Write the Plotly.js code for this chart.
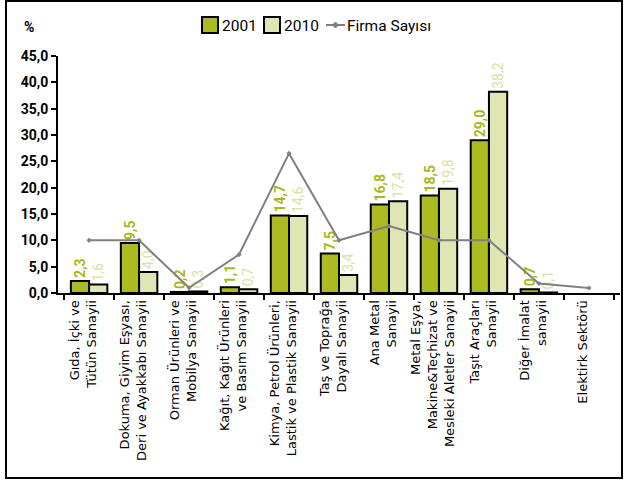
<!DOCTYPE html>
<html><head><meta charset="utf-8">
<script src="https://cdn.plot.ly/plotly-3.0.1.min.js"></script>
<style>html,body{margin:0;padding:0;background:#fff}#c{width:624px;height:481px}</style>
</head><body><div id="c"></div>
<script>
const categories = [
  "Gıda, İçki ve<br>Tütün Sanayii",
  "Dokuma, Giyim Eşyası,<br>Deri ve Ayakkabı Sanayii",
  "Orman Ürünleri ve<br>Mobilya Sanayii",
  "Kağıt, Kağıt Ürünleri<br>ve Basım Sanayii",
  "Kimya, Petrol Ürünleri,<br>Lastik ve Plastik Sanayii",
  "Taş ve Toprağa<br>Dayalı Sanayii",
  "Ana Metal<br>Sanayii",
  "Metal Eşya,<br>Makine&Teçhizat ve<br>Mesleki Aletler Sanayii",
  "Taşıt Araçları<br>Sanayii",
  "Diğer İmalat<br>sanayii",
  "Elektirk Sektörü"
];
const seriesNames = ["2001", "2010", "Firma Sayısı"];
const v2001 = [2.3, 9.5, 0.2, 1.1, 14.7, 7.5, 16.8, 18.5, 29.0, 0.7, null];
const v2010 = [1.6, 4.0, 0.3, 0.7, 14.6, 3.4, 17.4, 19.8, 38.2, 0.1, null];
const firma = [10.0, 10.0, 1.0, 7.3, 26.5, 10.0, 12.7, 10.0, 10.0, 1.8, 0.95];
const yTicks = [0, 5, 10, 15, 20, 25, 30, 35, 40, 45];

const F = "Roboto, 'DejaVu Sans', sans-serif";
const FL = "DejaVu Sans";
const c2001 = "#adbb22", c2010 = "#e0e5b4", cLine = "#808080";

const traces = [
  {type:"bar", name:seriesNames[0], x:categories, y:v2001,
   marker:{color:c2001, line:{color:"#000", width:2}},
   texttemplate:"%{y:.1f}", textposition:"outside", textangle:-90,
   constraintext:"none", cliponaxis:false,
   outsidetextfont:{family:F, size:14, color:"#a8b820", weight:"bold"}},
  {type:"bar", name:seriesNames[1], x:categories, y:v2010,
   marker:{color:c2010, line:{color:"#000", width:2}},
   texttemplate:"%{y:.1f}", textposition:"outside", textangle:-90,
   constraintext:"none", cliponaxis:false,
   outsidetextfont:{family:F, size:14, color:"#d9dfa6"}},
  {type:"scatter", mode:"lines+markers", name:seriesNames[2], x:categories, y:firma,
   line:{color:cLine, width:2}, marker:{symbol:"diamond", size:4, color:cLine}}
];

const L = 58, T = 56, W = 562, H = 237;
const px = x => (x - L) / W, py = y => 1 - (y - T) / H;

const LY = 25;
function box(x0, color) {
  return {type:"rect", xref:"paper", yref:"paper", x0:px(x0), x1:px(x0+16), y0:py(LY+8), y1:py(LY-8),
          fillcolor:color, line:{color:"#000", width:2}};
}
function diamondPath(cx, cy, r) {
  return `M${px(cx)},${py(cy-r)} L${px(cx+r)},${py(cy)} L${px(cx)},${py(cy+r)} L${px(cx-r)},${py(cy)} Z`;
}
const legendShapes = [
  box(202, c2001),
  box(264, c2010),
  {type:"line", xref:"paper", yref:"paper", x0:px(326), x1:px(345), y0:py(LY), y1:py(LY), line:{color:cLine, width:2}},
  {type:"path", xref:"paper", yref:"paper", path:diamondPath(335.5, LY, 3), fillcolor:cLine, line:{color:cLine, width:1}}
];
function legText(t, x) {
  return {text:t, xref:"paper", yref:"paper", x:px(x), y:py(LY+1), xanchor:"left", yanchor:"middle",
          showarrow:false, font:{family:F, size:15.5, color:"#000"}};
}

const layout = {
  width:624, height:481,
  margin:{l:L, r:624-L-W, t:T, b:481-T-H},
  paper_bgcolor:"#fff", plot_bgcolor:"#fff",
  separators:",.",
  barmode:"group", bargap:0.27, bargroupgap:0,
  font:{family:F, size:12, color:"#000"},
  showlegend:false,
  xaxis:{type:"category", showline:true, linecolor:"#000", linewidth:2,
         ticks:"outside", tickson:"boundaries", ticklen:5, tickwidth:2, tickcolor:"#000",
         tickangle:-90, tickfont:{family:FL, size:13, color:"#000"}, showgrid:false,
         ticklabelshift:-6, automargin:false},
  yaxis:{range:[0,45], tickvals:yTicks, tickformat:".1f", showline:true, linecolor:"#000",
         linewidth:2, ticks:"outside", ticklen:5, tickwidth:2, tickcolor:"#000",
         showgrid:false, zeroline:false, tickfont:{family:F, size:14, color:"#000", weight:"bold"},
         automargin:false},
  annotations:[
    {text:"%", xref:"paper", yref:"paper", x:px(29), y:py(27), xanchor:"center", yanchor:"middle",
     showarrow:false, font:{family:F, size:14, color:"#000", weight:"bold"}},
    legText(seriesNames[0], 220),
    legText(seriesNames[1], 282),
    legText(seriesNames[2], 345)
  ],
  shapes:[
    {type:"rect", xref:"paper", yref:"paper", x0:px(6), x1:px(622), y0:py(478), y1:py(1),
     line:{color:"#000", width:2}, fillcolor:"rgba(0,0,0,0)", layer:"below"}
  ].concat(legendShapes)
};
Plotly.newPlot("c", traces, layout, {displayModeBar:false, staticPlot:true});
</script></body></html>
